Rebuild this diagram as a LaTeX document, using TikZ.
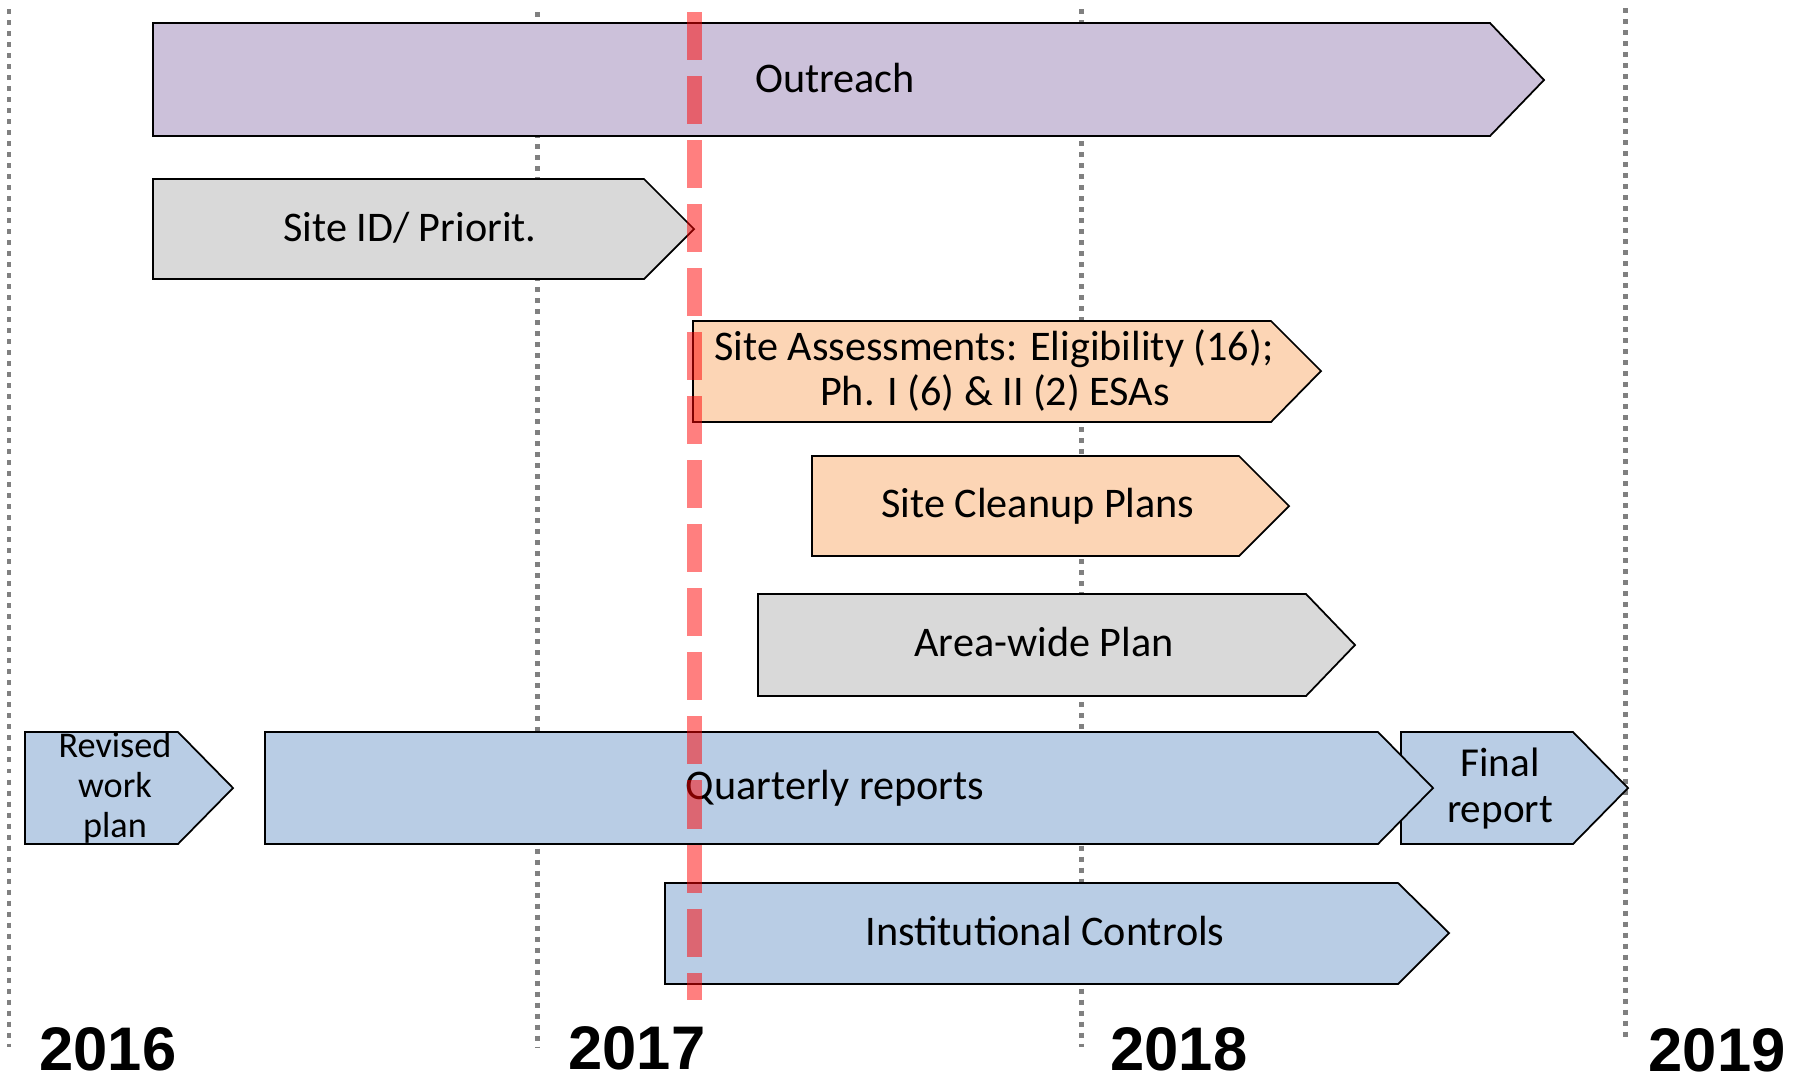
\documentclass[tikz,border=0pt]{standalone}
\usepackage{fontspec}
\setmainfont{Carlito}
\newfontfamily\yearfont{Liberation Sans}
\definecolor{purplebar}{HTML}{CCC1DA}
\definecolor{graybar}{HTML}{D9D9D9}
\definecolor{orangebar}{HTML}{FCD5B5}
\definecolor{bluebar}{HTML}{B9CDE5}
\definecolor{gridgray}{HTML}{808080}
\begin{document}
\begin{tikzpicture}[x=0.01cm,y=-0.01cm,
  bar/.style={draw=black, line width=0.5pt, line join=miter},
  yrline/.style={draw=gridgray, line width=1.42pt, dash pattern=on 1.42pt off 1.71pt},
  nowline/.style={draw=red, line width=4.27pt, draw opacity=0.5, dash pattern=on 13.66pt off 4.55pt},
  lbl/.style={font=\fontsize{12}{14}\selectfont, anchor=base, inner sep=0pt},
  smalllbl/.style={font=\fontsize{10.3}{12}\selectfont, anchor=base, inner sep=0pt},
  midlbl/.style={font=\fontsize{11.7}{14}\selectfont, anchor=base, inner sep=0pt},
  yearlbl/.style={font=\yearfont\bfseries\fontsize{17.5}{20}\selectfont, anchor=base, inner sep=0pt}]
\useasboundingbox (0,0) rectangle (1800,1081);

% year grid lines
\coordinate (g16t) at (9,9);    \coordinate (g16b) at (9,1047);
\coordinate (g17t) at (537,12); \coordinate (g17b) at (537,1047);
\coordinate (g18t) at (1081,9); \coordinate (g18b) at (1081,1047);
\coordinate (g19t) at (1625,8); \coordinate (g19b) at (1625,1040);
\draw[yrline] (g16t) -- (g16b);
\draw[yrline] (g17t) -- (g17b);
\draw[yrline] (g18t) -- (g18b);
\draw[yrline] (g19t) -- (g19b);

% bars
\filldraw[bar, fill=purplebar] (153,23) -- (1490,23) -- (1544,80) -- (1490,136) -- (153,136) -- cycle;
\filldraw[bar, fill=graybar] (153,179) -- (644,179) -- (694,229) -- (644,279) -- (153,279) -- cycle;
\filldraw[bar, fill=orangebar] (693,321) -- (1271,321) -- (1321,371) -- (1271,422) -- (693,422) -- cycle;
\filldraw[bar, fill=orangebar] (812,456) -- (1239,456) -- (1289,506) -- (1239,556) -- (812,556) -- cycle;
\filldraw[bar, fill=graybar] (758,594) -- (1306,594) -- (1355,645) -- (1306,696) -- (758,696) -- cycle;
\filldraw[bar, fill=bluebar] (25,732) -- (178,732) -- (233,788) -- (178,844) -- (25,844) -- cycle;
\filldraw[bar, fill=bluebar] (1401,732) -- (1573,732) -- (1628,788) -- (1573,844) -- (1401,844) -- cycle;
\filldraw[bar, fill=bluebar] (265,732) -- (1378,732) -- (1433,788) -- (1378,844) -- (265,844) -- cycle;
\filldraw[bar, fill=bluebar] (665,883) -- (1398,883) -- (1449,933) -- (1398,984) -- (665,984) -- cycle;

% labels
\node[lbl] (outreach) at (835,92) {Outreach};
\node[lbl] (siteid) at (410,241) {Site ID/ Priorit.};
\node[lbl] (assess1) at (994,360) {Site Assessments: Eligibility (16);};
\node[lbl] (assess2) at (995,405) {Ph. I (6) \& II (2) ESAs};
\node[lbl] (cleanup) at (1038,517) {Site Cleanup Plans};
\node[lbl] (areawide) at (1044,656) {Area-wide Plan};
\node[smalllbl] (rev1) at (115,757) {Revised};
\node[smalllbl] (rev2) at (115,797) {work};
\node[smalllbl] (rev3) at (115,837) {plan};
\node[lbl] (quarterly) at (835,799) {Quarterly reports};
\node[midlbl] (final1) at (1500,776) {Final};
\node[midlbl] (final2) at (1500,822) {report};
\node[lbl] (inst) at (1045,945) {Institutional Controls};

% years
\node[yearlbl] (y16) at (108,1070) {2016};
\node[yearlbl] (y17) at (637,1069) {2017};
\node[yearlbl] (y18) at (1179,1070) {2018};
\node[yearlbl] (y19) at (1717,1071) {2019};

% current date line
\coordinate (nowtop) at (694,12);
\coordinate (nowbot) at (694,1000);
\draw[nowline] (nowtop) -- (nowbot);
\end{tikzpicture}
\end{document}
